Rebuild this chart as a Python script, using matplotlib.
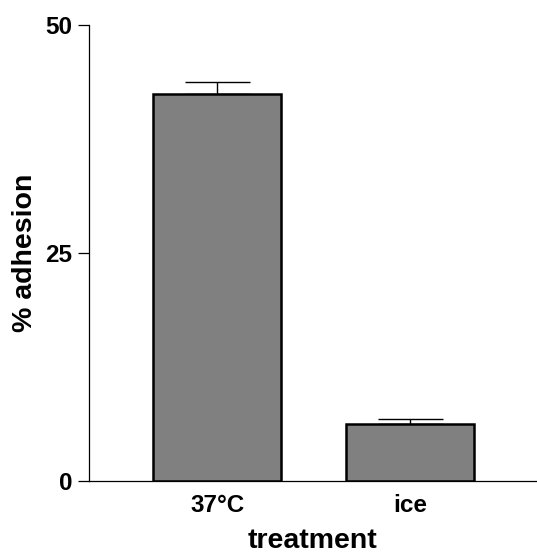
import matplotlib
matplotlib.use("Agg")
import matplotlib.pyplot as plt

categories = ["37°C", "ice"]
values = [42.4, 6.25]
errors = [1.35, 0.6]
yticks = [0, 25, 50]

plt.rcParams['font.family'] = ['Liberation Sans', 'DejaVu Sans']
plt.rcParams['font.weight'] = 'bold'

fig = plt.figure(figsize=(5.37, 5.56), dpi=100)
ax = fig.add_axes([89/537, 75/556, 448/537, 456/556])

x = list(range(len(categories)))
ax.bar(x, values, width=0.665, color="#808080", edgecolor="black", linewidth=1.8, zorder=2)
ax.errorbar(x, values, yerr=[[0]*len(errors), errors], fmt='none', ecolor='black',
            elinewidth=1.0, capsize=23.4, capthick=1.0, zorder=1)

ax.set_xlim(-0.6675, 1.66)
ax.set_ylim(0, 50)
ax.set_yticks(yticks)
ax.set_yticklabels([str(t) for t in yticks])
ax.set_xticks(x)
ax.set_xticklabels(categories)
ax.tick_params(axis='y', length=8, width=0.9, pad=4, labelsize=17.5)
ax.tick_params(axis='x', length=0, pad=9, labelsize=17.5)
for lab in ax.get_xticklabels() + ax.get_yticklabels():
    lab.set_fontweight('bold')

ax.spines['top'].set_visible(False)
ax.spines['right'].set_visible(False)
ax.spines['left'].set_linewidth(0.9)
ax.spines['bottom'].set_linewidth(0.9)

ax.set_ylabel("% adhesion", fontsize=20.5, fontweight='bold', labelpad=5)
ax.set_xlabel("treatment", fontsize=20.5, fontweight='bold', labelpad=8)

fig.savefig("out.png", dpi=100)
